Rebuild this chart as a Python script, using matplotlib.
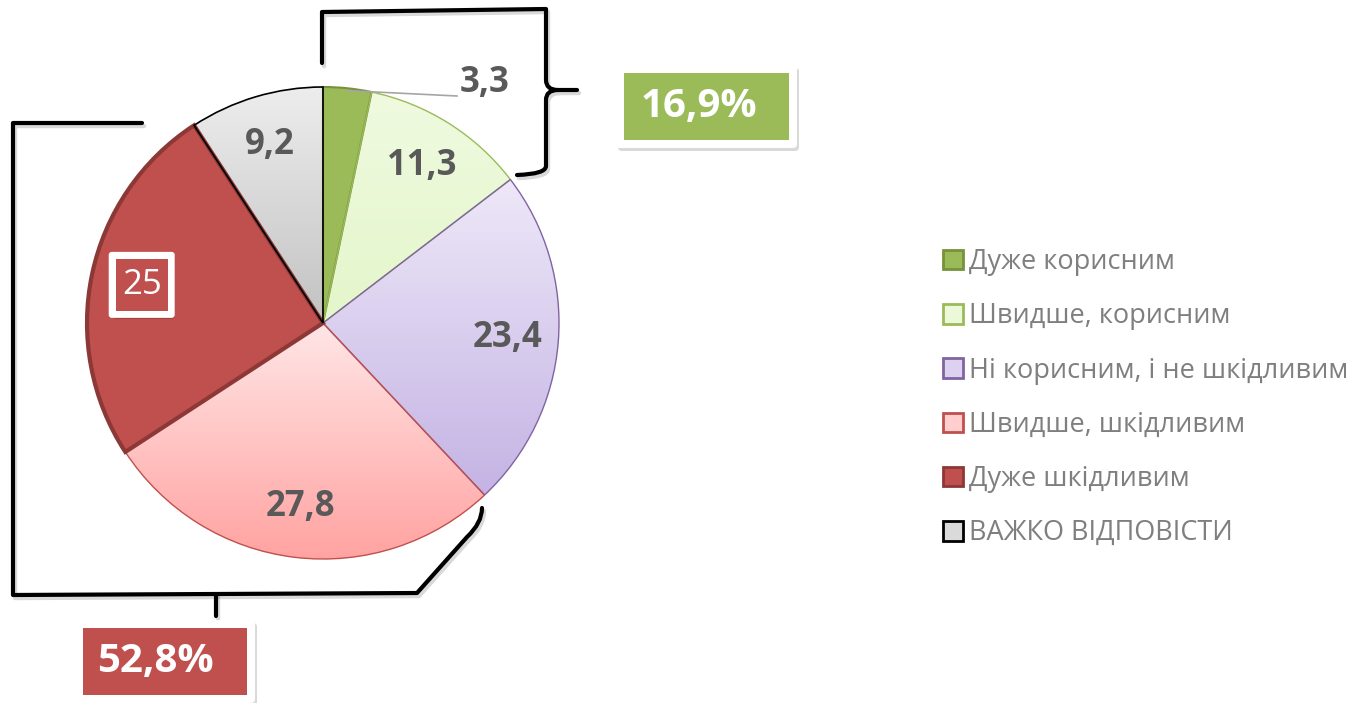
import numpy as np
import matplotlib
matplotlib.use("Agg")
import matplotlib.pyplot as plt
from matplotlib.patches import Patch, FancyBboxPatch, Rectangle, PathPatch
from matplotlib.path import Path
from matplotlib.colors import LinearSegmentedColormap

# ---------------- data ----------------
categories = ["Дуже корисним", "Швидше, корисним", "Ні корисним, і не шкідливим",
              "Швидше, шкідливим", "Дуже шкідливим", "ВАЖКО ВІДПОВІСТИ"]
values = [3.3, 11.3, 23.4, 27.8, 25, 9.2]
value_labels = ["3,3", "11,3", "23,4", "27,8", "25", "9,2"]
positive_total = "16,9%"
negative_total = "52,8%"

# ---------------- style ----------------
face_top = ["#9BBB59", "#EFFADF", "#EEE8F8", "#FFE6E6", "#C0504D", "#EDEDED"]
face_bot = ["#9BBB59", "#E4F6CB", "#C4B3E4", "#FFA3A1", "#C0504D", "#C2C2C2"]
edge_cols = ["#76923C", "#9BBB59", "#8064A2", "#C0504D", "#8C3836", "#000000"]
edge_w = [1.5, 1.0, 1.0, 1.0, 3.0, 1.2]
legend_face = ["#9BBB59", "#EBF9D8", "#DCD2F0", "#FFCFCF", "#C0504D", "#DADADA"]

plt.rcParams["font.family"] = ["Open Sans", "DejaVu Sans"]

W, H = 1362, 703
fig = plt.figure(figsize=(W / 100, H / 100), dpi=100)
ax = fig.add_axes([0, 0, 1, 1])


def Y(y):
    return H - y


cx, cy, R = 323, Y(323), 236
wedges, _ = ax.pie(values, startangle=90, counterclock=False, center=(cx, cy),
                   radius=R, colors=face_top)

for i, w in enumerate(wedges):
    w.set_edgecolor(edge_cols[i])
    w.set_linewidth(edge_w[i])
    w.set_zorder(3)
    if face_top[i] != face_bot[i]:
        bb = w.get_path().get_extents()
        cmap = LinearSegmentedColormap.from_list("g%d" % i, [face_bot[i], face_top[i]])
        grad = np.linspace(0, 1, 256).reshape(-1, 1)
        im = ax.imshow(grad, cmap=cmap, origin="lower",
                       extent=(bb.x0, bb.x1, bb.y0, bb.y1), zorder=2,
                       interpolation="bilinear")
        im.set_clip_path(w)
        w.set_facecolor("none")

# value labels
total = sum(values)
cum = 0.0
for i, v in enumerate(values):
    mid = cum + v / 2.0
    cum += v
    ang = np.deg2rad(90 - 360.0 * mid / total)
    if i == 0:
        # outside label with leader line
        ex, ey = cx + R * 0.99 * np.cos(ang), cy + R * 0.99 * np.sin(ang)
        tx, ty = 457, Y(96)
        ax.plot([ex, tx], [ey, ty], color="#A6A6A6", lw=1.2, zorder=5)
        ax.text(460, Y(83), value_labels[i], ha="left", va="center",
                fontsize=25, fontweight="bold", color="#595959", zorder=6)
        continue
    d = 0.785 * R
    x, y = cx + d * np.cos(ang), cy + d * np.sin(ang)
    if i == 4:
        ax.add_patch(FancyBboxPatch((x - 31 + 2, y - 31 - 3), 62, 62,
                                    boxstyle="round,pad=0,rounding_size=3",
                                    fc="#000000", ec="none", alpha=0.2, zorder=6))
        ax.add_patch(FancyBboxPatch((x - 33, y - 33), 66, 66,
                                    boxstyle="round,pad=0,rounding_size=3",
                                    fc="white", ec="none", zorder=6))
        ax.add_patch(Rectangle((x - 26, y - 26), 52, 52, fc="#C0504D", ec="none", zorder=7))
        ax.text(x, y, value_labels[i], ha="center", va="center", fontsize=25,
                color="white", zorder=8)
    else:
        ax.text(x, y, value_labels[i], ha="center", va="center", fontsize=25,
                fontweight="bold", color="#595959", zorder=6)


# ---------------- brackets ----------------
def bracket(verts, codes):
    p = Path([(x, Y(y)) for x, y in verts], codes)
    ax.add_patch(PathPatch(Path([(x + 2, y - 3) for x, y in p.vertices], codes),
                           fc="none", ec="#000000", alpha=0.15, lw=3.2, zorder=4,
                           capstyle="round", joinstyle="round"))
    ax.add_patch(PathPatch(p, fc="none", ec="black", lw=3.0, zorder=5,
                           capstyle="round", joinstyle="round"))


M, L, C = Path.MOVETO, Path.LINETO, Path.CURVE3
# top bracket with brace
bracket([(322, 63), (322, 12), (546, 9), (546, 80), (546, 90), (558, 90), (577, 90),
         (558, 90), (546, 90), (546, 100), (546, 166), (546, 174), (517, 175)],
        [M, L, L, L, C, C, L, M, C, C, L, C, C])
# left bracket
bracket([(142, 123), (13, 123), (13, 595), (417, 593), (467, 537), (482, 523), (482, 508)],
        [M, L, L, L, L, C, C])
bracket([(216, 594), (216, 616)], [M, L])


# ---------------- total boxes ----------------
def total_box(x0, y0, x1, y1, pad, color, text, tx):
    ax.add_patch(FancyBboxPatch((x0 + 2, Y(y1) - 3), x1 - x0, y1 - y0,
                                boxstyle="round,pad=0,rounding_size=4",
                                fc="#000000", ec="none", alpha=0.15, zorder=6))
    ax.add_patch(FancyBboxPatch((x0, Y(y1)), x1 - x0, y1 - y0,
                                boxstyle="round,pad=0,rounding_size=4",
                                fc="white", ec="none", zorder=7))
    ax.add_patch(Rectangle((x0 + pad, Y(y1 - pad)), x1 - x0 - 2 * pad, y1 - y0 - 2 * pad,
                           fc=color, ec="none", zorder=8))
    ax.text(tx, Y((y0 + y1) / 2), text, ha="left", va="center", fontsize=29,
            fontweight="bold", color="white", zorder=9)


total_box(616, 65, 797, 148, 8, "#9BBB59", positive_total, 641)
total_box(75, 620, 255, 703, 8, "#C0504D", negative_total, 97)

# ---------------- legend ----------------
handles = [Patch(facecolor=legend_face[i], edgecolor=edge_cols[i], linewidth=2)
           for i in range(len(categories))]
leg = ax.legend(handles, categories, loc="upper left",
                bbox_to_anchor=(943 / W, 1 - 248 / H), frameon=False,
                fontsize=19.5, labelcolor="#7F7F7F", handlelength=0.74,
                handleheight=0.74, handletextpad=0.22, labelspacing=0.97,
                borderaxespad=0, borderpad=0)

ax.set_xlim(0, W)
ax.set_ylim(0, H)
ax.set_aspect("equal")
ax.axis("off")
fig.savefig("out.png", dpi=100)
